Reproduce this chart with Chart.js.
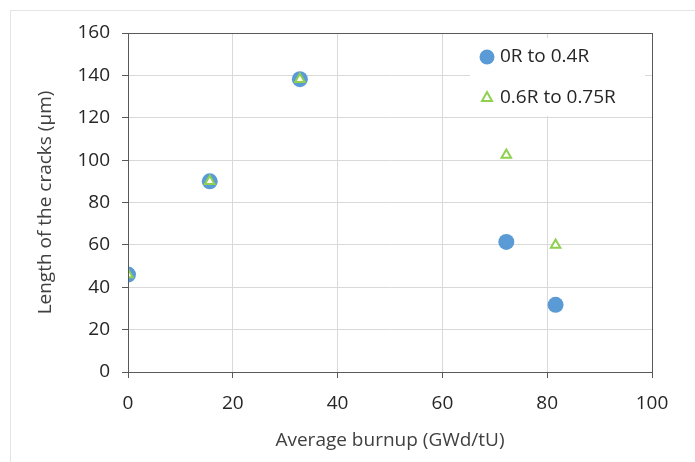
<!DOCTYPE html>
<html>
<head>
<meta charset="utf-8">
<script src="https://cdn.jsdelivr.net/npm/chart.js@4.4.0/dist/chart.umd.min.js"></script>
<style>
  html, body { margin: 0; padding: 0; background: #fff; }
  #wrap { width: 695px; height: 462px; position: relative; }
</style>
</head>
<body>
<div id="wrap"><canvas id="crackChart" width="695" height="462"></canvas></div>
<script>
// ======== DATA ========
const burnupInner = [0, 15.6, 32.8, 72.2, 81.6];
const crackInner = [46, 90, 138.2, 61.4, 31.7];
const burnupOuter = [0, 15.6, 32.8, 72.2, 81.6];
const crackOuter = [46, 90, 138.2, 102.4, 60];
const seriesLabels = ["0R to 0.4R", "0.6R to 0.75R"];
const xTicks = [0, 20, 40, 60, 80, 100];
const yTicks = [0, 20, 40, 60, 80, 100, 120, 140, 160];

const BLUE = "#5b9bd5";
const GREEN = "#8fd14f";
const FONT = "'Open Sans', 'Noto Sans', sans-serif";

const toPoints = (xs, ys) => xs.map((x, i) => ({ x: x, y: ys[i] }));

// ======== FRAME + LEGEND PLUGIN ========
const framePlugin = {
    id: "frame",
    beforeDraw(chart) {
        const ctx = chart.ctx;
        ctx.save();
        ctx.strokeStyle = "#e4e4e4";
        ctx.lineWidth = 1;
        ctx.strokeRect(10.5, 10.5, 700, 470);
        ctx.restore();
    },
    afterDatasetsDraw(chart) {
        const { ctx, chartArea: a } = chart;
        ctx.save();
        ctx.strokeStyle = "#595959";
        ctx.lineWidth = 1;
        ctx.strokeRect(a.left + 0.5, a.top + 0.5, a.right - a.left, a.bottom - a.top);

        // legend box (white, covers gridlines)
        ctx.fillStyle = "#fff";
        ctx.fillRect(470, 38, 175, 78);
        ctx.font = "19px " + FONT;
        ctx.textBaseline = "middle";

        ctx.beginPath();
        ctx.arc(487, 57, 7.5, 0, Math.PI * 2);
        ctx.fillStyle = BLUE;
        ctx.fill();
        ctx.fillStyle = "#262626";
        ctx.fillText(seriesLabels[0], 500, 57);

        ctx.beginPath();
        ctx.moveTo(487, 92);
        ctx.lineTo(492, 101);
        ctx.lineTo(482, 101);
        ctx.closePath();
        ctx.strokeStyle = GREEN;
        ctx.lineWidth = 2;
        ctx.stroke();
        ctx.fillStyle = "#262626";
        ctx.fillText(seriesLabels[1], 500, 98);
        ctx.restore();
    },
};

// ======== SCATTER CHART ========
new Chart(document.getElementById("crackChart"), {
    type: "scatter",
    data: {
        datasets: [
            {
                label: seriesLabels[0],
                data: toPoints(burnupInner, crackInner),
                pointStyle: "circle",
                pointRadius: 8,
                pointBackgroundColor: BLUE,
                pointBorderColor: BLUE,
                pointBorderWidth: 0,
                order: 1,
            },
            {
                label: seriesLabels[1],
                data: toPoints(burnupOuter, crackOuter),
                pointStyle: "triangle",
                pointRadius: 5.5,
                pointBackgroundColor: "#fff",
                pointBorderColor: GREEN,
                pointBorderWidth: 2,
                order: 0,
            },
        ],
    },
    options: {
        responsive: false,
        animation: false,
        layout: { padding: { left: 34, top: 33, right: 43, bottom: 10 } },
        plugins: {
            legend: { display: false },
            tooltip: { enabled: false },
        },
        scales: {
            x: {
                type: "linear",
                min: 0,
                max: 100,
                afterBuildTicks: (s) => { s.ticks = xTicks.map((v) => ({ value: v })); },
                afterFit: (s) => { s.height = 80; },
                grid: { color: "#d9d9d9", tickColor: "#595959", tickLength: 6 },
                border: { color: "#595959" },
                ticks: { color: "#262626", font: { size: 19, family: FONT }, padding: 14 },
                title: {
                    display: true,
                    text: "Average burnup (GWd/tU)",
                    color: "#404040",
                    font: { size: 19, family: FONT },
                    padding: { top: 4, bottom: 0 },
                },
            },
            y: {
                min: 0,
                max: 160,
                afterBuildTicks: (s) => { s.ticks = yTicks.map((v) => ({ value: v })); },
                afterFit: (s) => { s.width = 94; },
                grid: { color: "#d9d9d9", tickColor: "#595959", tickLength: 6 },
                border: { color: "#595959" },
                ticks: { color: "#262626", font: { size: 19, family: FONT }, padding: 12 },
                title: {
                    display: true,
                    text: "Length of the cracks (µm)",
                    color: "#404040",
                    font: { size: 19, family: FONT },
                    padding: { top: 0, bottom: 0 },
                },
            },
        },
    },
    plugins: [framePlugin],
});
</script>
</body>
</html>
